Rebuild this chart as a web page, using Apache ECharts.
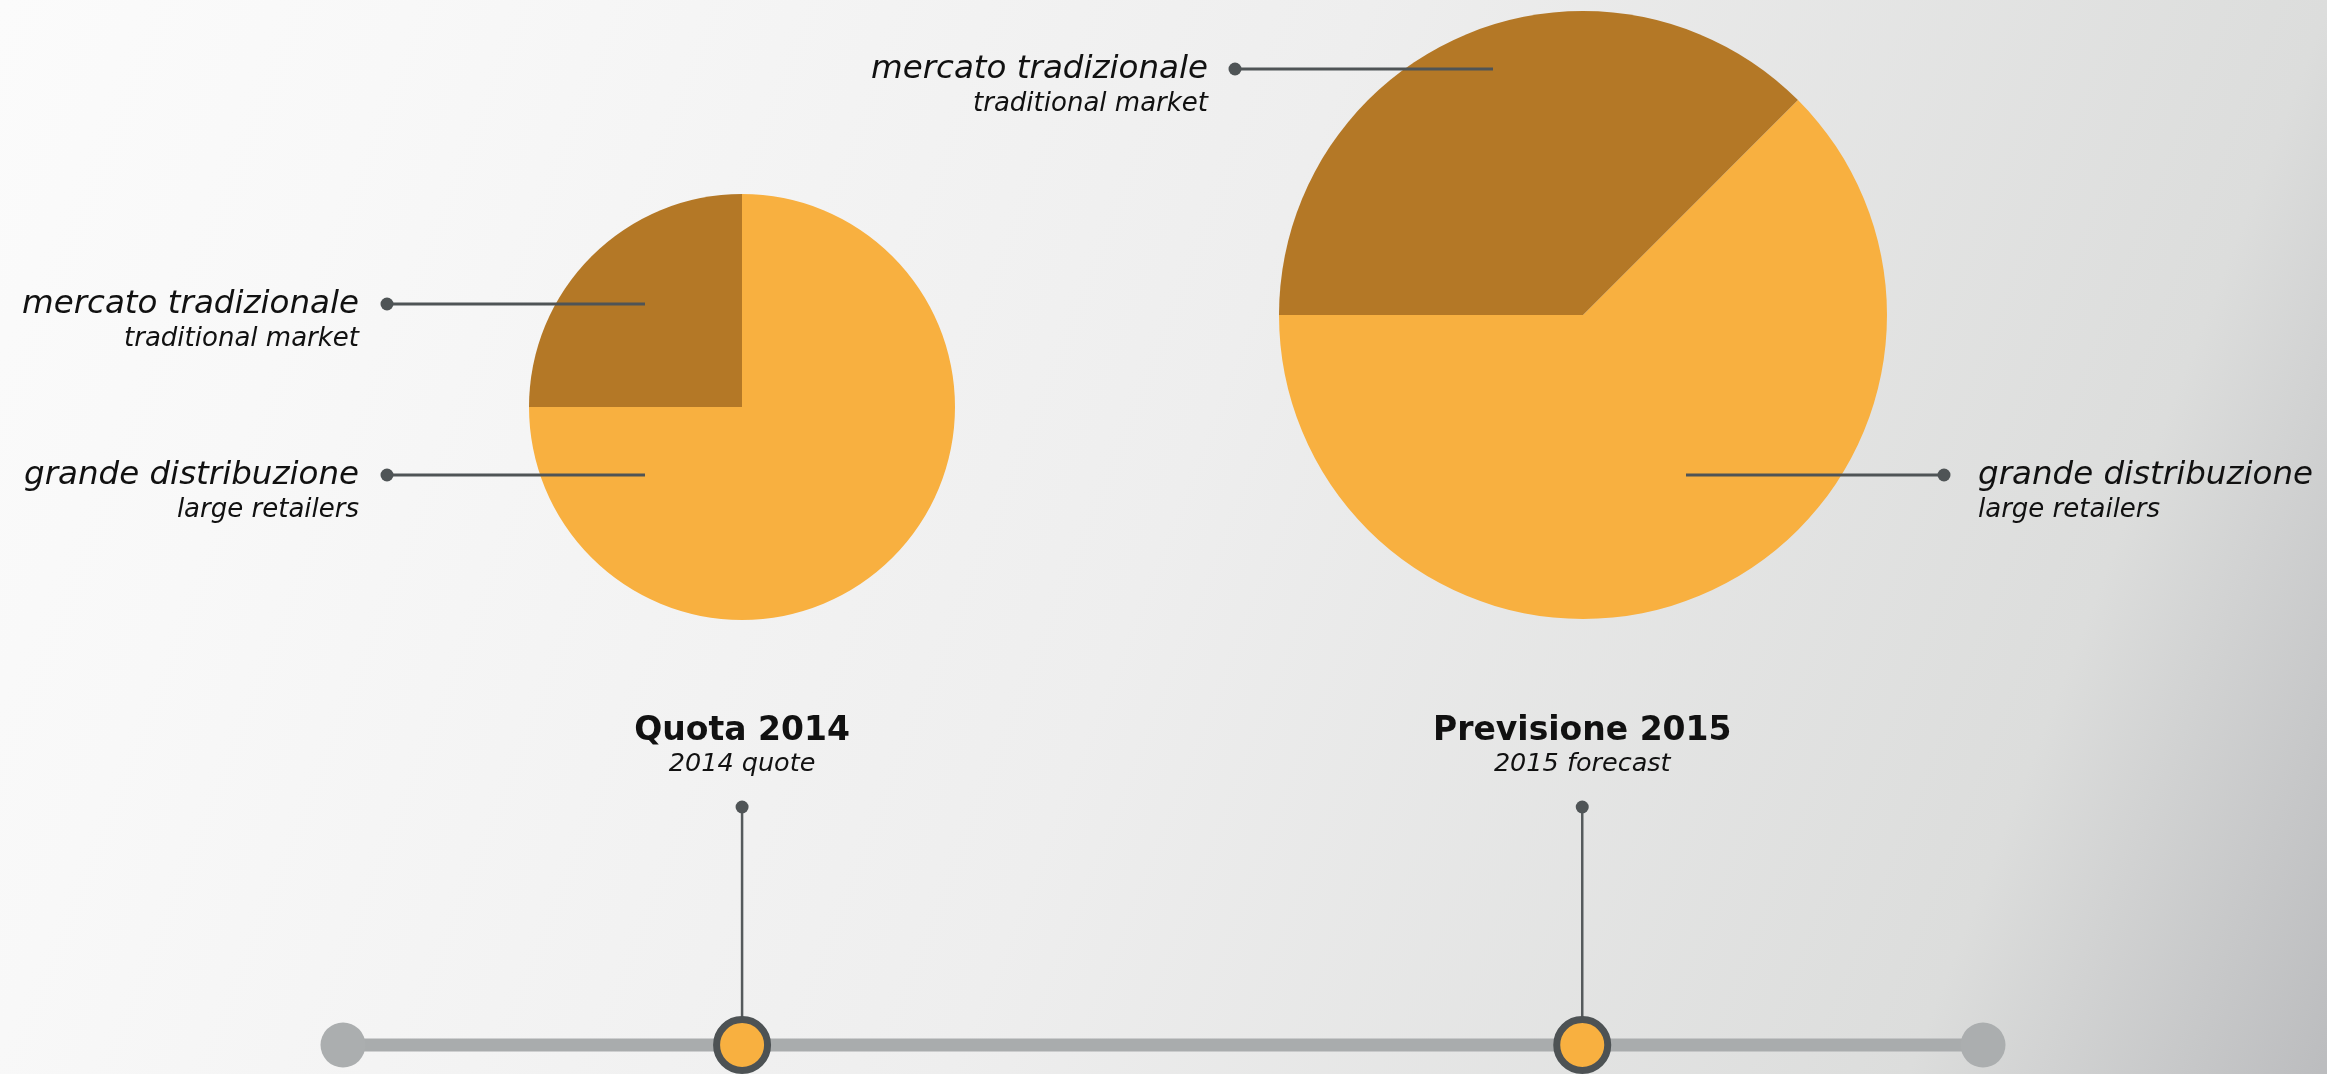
<!DOCTYPE html>
<html>
<head>
<meta charset="utf-8">
<script src="https://cdn.jsdelivr.net/npm/echarts@6/dist/echarts.min.js"></script>
<style>
  html, body { margin: 0; padding: 0; }
  #chart { width: 2327px; height: 1074px; }
</style>
</head>
<body>
<div id="chart"></div>
<script>
// data
var segmentNames = ['grande distribuzione', 'mercato tradizionale'];
var segmentNamesEn = ['large retailers', 'traditional market'];
var share2014 = [75, 25];
var share2015 = [62.5, 37.5];
var timelineYears = [2014, 2015];
var timelineTitles = ['Quota 2014', 'Previsione 2015'];
var timelineSubtitles = ['2014 quote', '2015 forecast'];
var timelineRange = [2013.525, 2015.477];

var FONT = "'DejaVu Sans', sans-serif";
var colors = ['#f8b040', '#b47826'];
var darkGrey = '#4f5456';

var chart = echarts.init(document.getElementById('chart'), null, {renderer: 'canvas'});

function pieData(values) {
    return values.map(function (v, i) {
        return {name: segmentNames[i], value: v, itemStyle: {color: colors[i]}};
    });
}

// callouts: [segment index, side, line y, inner x, dot x, text x]
var callouts = [
    [1, 'left', 304, 645, 387, 359],
    [0, 'left', 475, 645, 387, 359],
    [1, 'left', 69, 1493, 1235, 1208],
    [0, 'right', 475, 1686, 1944, 1978]
];

var graphics = [];
callouts.forEach(function (c) {
    var idx = c[0], side = c[1], y = c[2];
    graphics.push({
        type: 'line', z: 10, silent: true,
        shape: {x1: c[3], y1: y, x2: c[4], y2: y},
        style: {stroke: darkGrey, lineWidth: 3}
    });
    graphics.push({
        type: 'circle', z: 10, silent: true,
        shape: {cx: c[4], cy: y, r: 6.5},
        style: {fill: darkGrey}
    });
    var align = side === 'left' ? 'right' : 'left';
    graphics.push({
        type: 'text', z: 10, silent: true,
        style: {
            text: segmentNames[idx], x: c[5], y: y + 1,
            font: 'italic 32.5px ' + FONT, fill: '#111',
            align: align, verticalAlign: 'middle',
            textAlign: align, textVerticalAlign: 'middle'
        }
    });
    graphics.push({
        type: 'text', z: 10, silent: true,
        style: {
            text: segmentNamesEn[idx], x: c[5], y: y + 35,
            font: 'italic 26px ' + FONT, fill: '#111',
            align: align, verticalAlign: 'middle',
            textAlign: align, textVerticalAlign: 'middle'
        }
    });
});

var stemSeries = timelineYears.map(function (yr) {
    return {
        type: 'line', clip: false, silent: true, symbol: 'none', z: 3,
        data: [[yr, 0], [yr, 1]],
        lineStyle: {color: '#555a5c', width: 2.5}
    };
});

var option = {
    backgroundColor: {
        type: 'linear', x: 0, y: 0, x2: 1.02, y2: 0.87,
        colorStops: [
            {offset: 0, color: '#fbfbfb'},
            {offset: 0.15, color: '#f8f8f8'},
            {offset: 0.5, color: '#eeeeee'},
            {offset: 0.85, color: '#dcdddc'},
            {offset: 1, color: '#bcbdbf'}
        ]
    },
    animation: false,
    grid: {left: 343, right: 344, top: 807, bottom: 29},
    xAxis: {type: 'value', min: timelineRange[0], max: timelineRange[1], show: false},
    yAxis: {type: 'value', min: 0, max: 1, show: false},
    graphic: graphics,
    series: [
        {
            type: 'pie', center: [742, 407], radius: 213, startAngle: 90,
            silent: true, label: {show: false}, labelLine: {show: false},
            data: pieData(share2014)
        },
        {
            type: 'pie', center: [1583, 315], radius: 304, startAngle: 45,
            silent: true, label: {show: false}, labelLine: {show: false},
            data: pieData(share2015)
        },
        {
            type: 'line', clip: false, silent: true, symbol: 'none', z: 2,
            data: [[timelineRange[0], 0], [timelineRange[1], 0]],
            lineStyle: {color: '#a9acad', width: 13}
        },
        {
            type: 'scatter', clip: false, silent: true, z: 2,
            symbolSize: 45,
            itemStyle: {color: '#abaeaf', opacity: 1},
            data: [[timelineRange[0], 0], [timelineRange[1], 0]]
        }
    ].concat(stemSeries).concat([
        {
            type: 'scatter', clip: false, silent: true, z: 4,
            symbolSize: 13,
            itemStyle: {color: darkGrey, opacity: 1},
            data: timelineYears.map(function (yr) { return [yr, 1]; }),
            label: {
                show: true, position: 'top', distance: 21,
                formatter: function (p) {
                    return '{t|' + timelineTitles[p.dataIndex] + '}\n{s|' + timelineSubtitles[p.dataIndex] + '}';
                },
                rich: {
                    t: {fontFamily: FONT, fontWeight: 'bold', fontSize: 33, lineHeight: 37, color: '#111', align: 'center'},
                    s: {fontFamily: FONT, fontStyle: 'italic', fontSize: 25.5, lineHeight: 30, color: '#111', align: 'center'}
                }
            }
        },
        {
            type: 'scatter', clip: false, silent: true, z: 5,
            symbolSize: 51,
            itemStyle: {color: '#f8b040', borderColor: '#4d5254', borderWidth: 7, opacity: 1},
            data: timelineYears.map(function (yr) { return [yr, 0]; })
        }
    ])
};

chart.setOption(option);
</script>
</body>
</html>
